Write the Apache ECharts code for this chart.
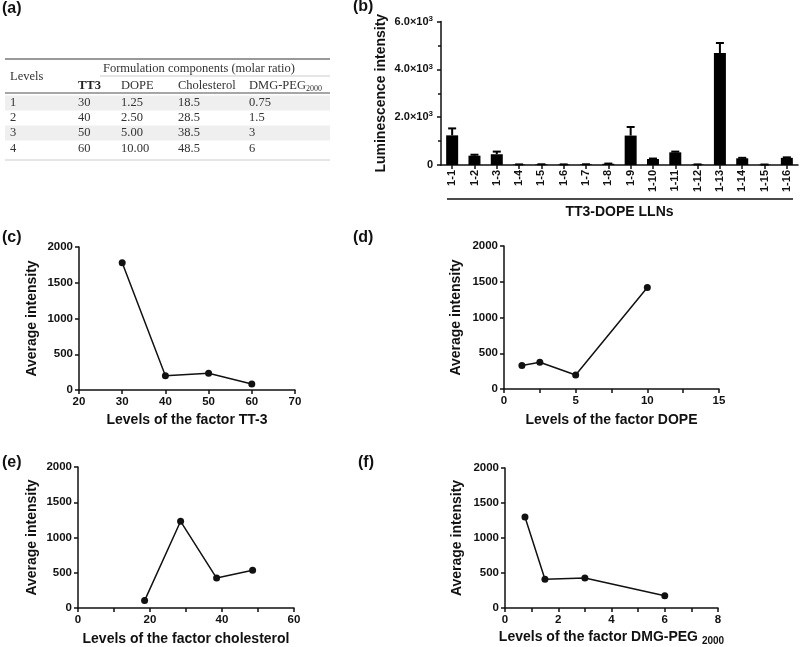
<!DOCTYPE html>
<html><head><meta charset="utf-8">
<script src="https://cdn.jsdelivr.net/npm/echarts@6/dist/echarts.min.js"></script>
<style>html,body{margin:0;padding:0;background:#fff}#c{width:800px;height:647px}</style>
</head><body><div id="c"></div>
<script>
// ---- (a) table data ----
const tableLevels = ['1', '2', '3', '4'];
const tableTT3 = ['30', '40', '50', '60'];
const tableDOPE = ['1.25', '2.50', '5.00', '10.00'];
const tableChol = ['18.5', '28.5', '38.5', '48.5'];
const tablePEG = ['0.75', '1.5', '3', '6'];
const tableHeaders = ['TT3', 'DOPE', 'Cholesterol', 'DMG-PEG'];

// ---- (b) bar data ----
const lnpCats = ['1-1','1-2','1-3','1-4','1-5','1-6','1-7','1-8','1-9','1-10','1-11','1-12','1-13','1-14','1-15','1-16'];
const lnpMeans = [1240, 390, 450, 20, 25, 20, 25, 50, 1230, 250, 530, 20, 4680, 280, 15, 300];
const lnpErr = [290, 40, 110, 5, 5, 5, 5, 10, 360, 20, 30, 5, 420, 20, 5, 20];
const lnpTicks = [0, 2000, 4000, 6000];

// ---- (c)-(f) factor data ----
const tt3Levels = [30, 40, 50, 60];
const tt3Avg = [1780, 200, 235, 85];
const dopeLevels = [1.25, 2.5, 5, 10];
const dopeAvg = [330, 375, 195, 1420];
const cholLevels = [18.5, 28.5, 38.5, 48.5];
const cholAvg = [105, 1230, 425, 535];
const pegLevels = [0.75, 1.5, 3, 6];
const pegAvg = [1300, 410, 430, 175];

const SANS = 'Liberation Sans';
const SERIF = 'Liberation Serif';
const INK = '#111';

const axisLine = { show: true, lineStyle: { color: INK, width: 1.5 } };
const axisTick = { show: true, length: 4, inside: false, lineStyle: { color: INK, width: 1.5 } };
const lblStyle = { color: INK, fontFamily: SANS, fontWeight: 'bold', fontSize: 11.5 };
const nameStyle = { color: INK, fontFamily: SANS, fontWeight: 'bold', fontSize: 14 };
const plain = v => String(v);

function xVal(grid, min, max, interval, name, gap, minor, nameExtra) {
  return {
    type: 'value', gridIndex: grid, min: min, max: max, interval: interval,
    axisLine: axisLine, axisTick: axisTick, splitLine: { show: false },
    minorTick: minor ? { show: true, splitNumber: minor, length: 4, lineStyle: { color: INK, width: 1.5 } } : { show: false },
    axisLabel: Object.assign({ margin: 6, formatter: plain }, lblStyle),
    name: name, nameLocation: 'middle', nameGap: gap,
    nameTextStyle: Object.assign({}, nameStyle, nameExtra || {})
  };
}
function yVal(grid, gap) {
  return {
    type: 'value', gridIndex: grid, min: 0, max: 2000, interval: 500,
    axisLine: axisLine, axisTick: axisTick, splitLine: { show: false },
    axisLabel: Object.assign({ margin: 6, formatter: plain }, lblStyle),
    name: 'Average intensity', nameLocation: 'middle', nameGap: gap,
    nameTextStyle: nameStyle
  };
}
function lineSeries(idx, xs, ys) {
  return {
    type: 'line', xAxisIndex: idx, yAxisIndex: idx,
    data: xs.map((x, i) => [x, ys[i]]),
    symbol: 'circle', symbolSize: 7,
    lineStyle: { color: INK, width: 1.5 },
    itemStyle: { color: INK },
    silent: true, animation: false
  };
}

// ---- table graphics ----
const T = { fontFamily: SERIF, fontSize: 12.5, fill: '#333' };
const colX = [10, 78, 121, 178, 249];
const rowY = [103, 118, 133, 149];
const graphics = [];
[0, 2].forEach(r => graphics.push({ type: 'rect', shape: { x: 5, y: rowY[r] - 7.5, width: 325, height: 15 }, style: { fill: '#efefef' }, silent: true }));
graphics.push({ type: 'line', shape: { x1: 5, y1: 59, x2: 330, y2: 59 }, style: { stroke: '#777', lineWidth: 1.5 } });
graphics.push({ type: 'line', shape: { x1: 100, y1: 76, x2: 330, y2: 76 }, style: { stroke: '#ccc', lineWidth: 1 } });
graphics.push({ type: 'line', shape: { x1: 5, y1: 93, x2: 330, y2: 93 }, style: { stroke: '#888', lineWidth: 1.5 } });
graphics.push({ type: 'line', shape: { x1: 5, y1: 160, x2: 330, y2: 160 }, style: { stroke: '#ccc', lineWidth: 1 } });
function tx(text, x, y, extra) {
  graphics.push({ type: 'text', x: x, y: y, silent: true,
    style: Object.assign({ text: text, verticalAlign: 'middle', align: 'left' }, T, extra || {}) });
}
tx('Formulation components (molar ratio)', 103, 69);
tx('Levels', 10, 77);
tableHeaders.forEach((h, i) => tx(h, colX[i + 1], 86, i === 0 ? { fontWeight: 'bold', fill: '#222' } : {}));
tx('2000', 306, 89, { fontSize: 8 });
const cols = [tableLevels, tableTT3, tableDOPE, tableChol, tablePEG];
cols.forEach((col, c) => col.forEach((v, r) => tx(v, colX[c], rowY[r])));

// panel labels
[['(a)', 2, 9], ['(b)', 353, 7], ['(c)', 2, 238], ['(d)', 353, 238], ['(e)', 2, 463], ['(f)', 358, 463]].forEach(p => {
  graphics.push({ type: 'text', x: p[1], y: p[2], silent: true,
    style: { text: p[0], fontFamily: SANS, fontWeight: 'bold', fontSize: 16, fill: INK, verticalAlign: 'middle' } });
});
// underline for LLN group
graphics.push({ type: 'line', shape: { x1: 447, y1: 199, x2: 793, y2: 199 }, style: { stroke: INK, lineWidth: 1.5 } });

const chart = echarts.init(document.getElementById('c'), null, { renderer: 'canvas' });
chart.setOption({
  animation: false,
  backgroundColor: '#fff',
  graphic: graphics,
  grid: [
    { left: 441, top: 21.5, width: 357, height: 143.5 },
    { left: 79, top: 247, width: 216, height: 143 },
    { left: 504, top: 246, width: 215, height: 143 },
    { left: 78, top: 467, width: 216, height: 142 },
    { left: 505, top: 468, width: 213, height: 142 }
  ],
  xAxis: [
    {
      type: 'category', gridIndex: 0, data: lnpCats, boundaryGap: true,
      axisLine: axisLine,
      axisTick: Object.assign({ alignWithLabel: true }, axisTick),
      axisLabel: Object.assign({ rotate: 90, interval: 0, margin: 5 }, lblStyle, { fontSize: 11 }),
      name: 'TT3-DOPE LLNs', nameLocation: 'middle', nameGap: 40,
      nameTextStyle: nameStyle
    },
    xVal(1, 20, 70, 10, 'Levels of the factor TT-3', 23, 0),
    xVal(2, 0, 15, 5, 'Levels of the factor DOPE', 24, 2),
    xVal(3, 0, 60, 20, 'Levels of the factor cholesterol', 24, 2),
    xVal(4, 0, 8, 2, '{a|Levels of the factor DMG-PEG }{s|2000}', 20, 2, {
      rich: {
        a: { fontFamily: SANS, fontWeight: 'bold', fontSize: 14, color: INK, lineHeight: 18 },
        s: { fontFamily: SANS, fontWeight: 'bold', fontSize: 10, color: INK, lineHeight: 10, verticalAlign: 'bottom' }
      }
    })
  ],
  yAxis: [
    {
      type: 'value', gridIndex: 0, min: lnpTicks[0], max: lnpTicks[lnpTicks.length - 1], interval: 2000,
      axisLine: axisLine, axisTick: axisTick, splitLine: { show: false },
      minorTick: { show: true, splitNumber: 2, length: 3, lineStyle: { color: INK, width: 1.5 } },
      axisLabel: {
        margin: 8,
        formatter: v => v === 0 ? '{n|0}' : '{n|' + (v / 1000).toFixed(1) + '×10}{s|3}',
        rich: {
          n: { fontFamily: SANS, fontWeight: 'bold', fontSize: 11, color: INK, lineHeight: 14 },
          s: { fontFamily: SANS, fontWeight: 'bold', fontSize: 8, color: INK, lineHeight: 8, verticalAlign: 'top' }
        }
      },
      name: 'Luminescence intensity', nameLocation: 'middle', nameGap: 53,
      nameTextStyle: nameStyle
    },
    yVal(1, 40), yVal(2, 41), yVal(3, 39), yVal(4, 41)
  ],
  series: [
    {
      type: 'bar', xAxisIndex: 0, yAxisIndex: 0, data: lnpMeans, barWidth: 12,
      itemStyle: { color: '#000' }, silent: true
    },
    {
      type: 'custom', xAxisIndex: 0, yAxisIndex: 0, silent: true,
      data: lnpMeans.map((m, i) => [i, m, m + lnpErr[i]]),
      renderItem: function (params, api) {
        const i = api.value(0);
        const base = api.coord([i, api.value(1)]);
        const top = api.coord([i, api.value(2)]);
        return {
          type: 'group',
          children: [
            { type: 'line', shape: { x1: base[0], y1: base[1], x2: top[0], y2: top[1] }, style: { stroke: '#000', lineWidth: 2 } },
            { type: 'line', shape: { x1: top[0] - 4, y1: top[1], x2: top[0] + 4, y2: top[1] }, style: { stroke: '#000', lineWidth: 2 } }
          ]
        };
      }
    },
    lineSeries(1, tt3Levels, tt3Avg),
    lineSeries(2, dopeLevels, dopeAvg),
    lineSeries(3, cholLevels, cholAvg),
    lineSeries(4, pegLevels, pegAvg)
  ]
});
</script>
</body></html>
